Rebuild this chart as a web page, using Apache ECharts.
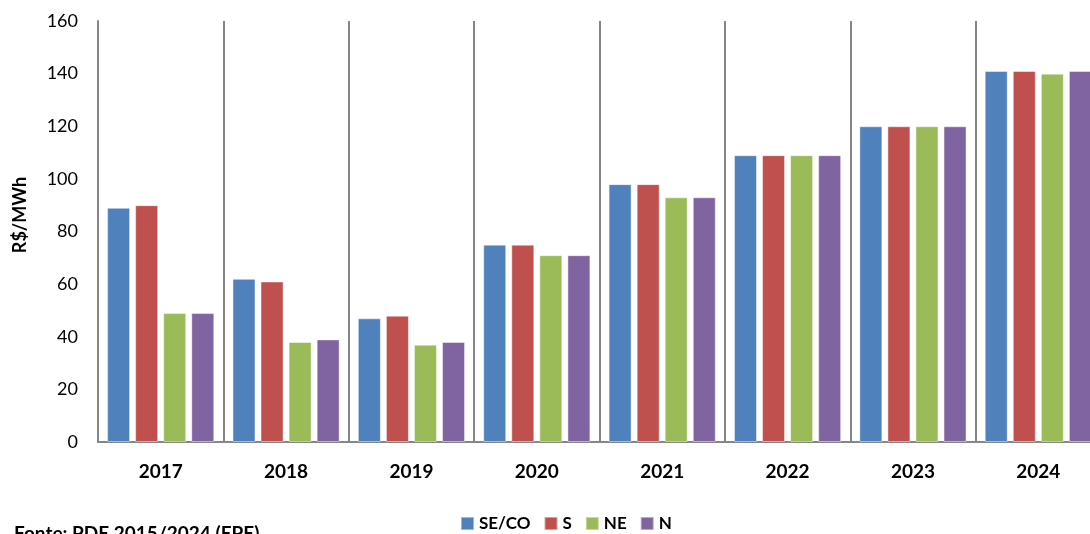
<!DOCTYPE html>
<html><head><meta charset="utf-8">
<script src="https://cdn.jsdelivr.net/npm/echarts@6/dist/echarts.min.js"></script>
<style>html,body{margin:0;padding:0;background:#fff;overflow:hidden}#c{width:1102px;height:534px}</style>
</head><body><div id="c"></div>
<script>
const categories = ['2017','2018','2019','2020','2021','2022','2023','2024'];
const seriesNames = ['SE/CO','S','NE','N'];
const seco = [89, 62, 47, 75, 98, 109, 120, 141];
const s    = [90, 61, 48, 75, 98, 109, 120, 141];
const ne   = [49, 38, 37, 71, 93, 109, 120, 140];
const n    = [49, 39, 38, 71, 93, 109, 120, 141];
const yTicks = [0, 20, 40, 60, 80, 100, 120, 140, 160];
const colors = ['#4F81BD', '#C0504D', '#9BBB59', '#8064A2'];
const font = 'Lato, "Open Sans", sans-serif';
const chart = echarts.init(document.getElementById('c'));
const data = [seco, s, ne, n];
chart.setOption({
  animation: false,
  textStyle: {fontFamily: font},
  grid: {left: 98, width: 1003, top: 21, height: 421, containLabel: false},
  legend: {
    data: seriesNames, top: 510, left: 455, itemWidth: 13, itemHeight: 13, itemGap: 13,
    icon: 'rect',
    textStyle: {fontFamily: font, fontWeight: 'bold', fontSize: 17, color: '#000'}
  },
  xAxis: {
    type: 'category', data: categories,
    axisLine: {lineStyle: {color: '#868686', width: 2}},
    axisTick: {show: false},
    axisLabel: {fontFamily: font, fontWeight: 'bold', fontSize: 19, color: '#000', margin: 20},
    splitLine: {show: true, lineStyle: {color: '#868686', width: 2}}
  },
  yAxis: {
    type: 'value', min: yTicks[0], max: yTicks[yTicks.length-1], interval: 20,
    axisLine: {show: true, lineStyle: {color: '#868686', width: 2}},
    axisTick: {show: false},
    axisLabel: {fontFamily: font, fontSize: 18, color: '#000', margin: 20},
    splitLine: {show: false}
  },
  graphic: [
    {type: 'text', x: 20, y: 215, rotation: Math.PI/2,
     style: {text: 'R$/MWh', font: 'bold 18px ' + font, fill: '#000', align: 'center', verticalAlign: 'middle'}},
    {type: 'text', left: 14, top: 524,
     style: {text: 'Fonte: PDE 2015/2024 (EPE)', font: 'bold 19px ' + font, fill: '#000'}}
  ],
  series: seriesNames.map((nm, i) => ({
    name: nm, type: 'bar', data: data[i], barWidth: 23, barGap: '22%',
    itemStyle: {color: colors[i], borderColor: 'rgba(255,255,255,0.45)', borderWidth: 1}
  }))
});
</script></body></html>
